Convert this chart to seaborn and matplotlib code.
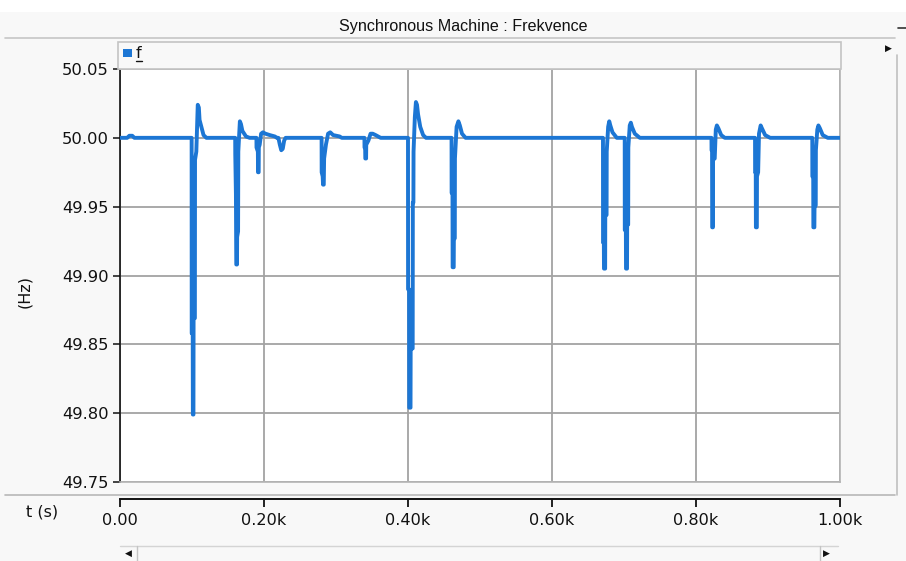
import matplotlib
matplotlib.use("Agg")
import matplotlib.pyplot as plt
import pandas as pd
import seaborn as sns
from matplotlib.patches import Rectangle
from matplotlib.lines import Line2D

# --- simulated generator frequency trace (time in s, frequency in Hz) ---
t_s = [
    0, 10, 13, 17, 20,
    99.5, 99.6, 101.0, 101.2, 102.0, 102.2, 104.0, 104.2, 106.0, 108.0, 109.5, 110.5, 113, 116, 120,
    160.0, 160.1, 161.0, 161.5, 162.5, 162.7, 164.0, 164.3, 166.5, 168, 170, 175, 180,
    189.5, 189.6, 191.5, 191.7, 192.6, 192.8, 194, 196, 198.5, 202, 208, 215, 218,
    220, 222, 224, 226, 228, 230,
    280, 280.1, 281.5, 282, 283, 283.5, 286, 289, 292, 296, 305, 308,
    339.5, 339.6, 340.5, 340.7, 341.8, 342.0, 345, 348, 351, 355, 362,
    400.0, 400.1, 401.5, 401.7, 403.5, 403.7, 406.5, 406.7, 407.5, 407.7, 409.5, 411, 412.5, 414, 417, 421, 425,
    460.5, 460.6, 461.8, 462, 463.5, 463.7, 465, 465.2, 467.5, 470, 472, 475, 480,
    670.8, 670.9, 672.0, 672.2, 673.8, 674, 675.8, 676, 678, 679.5, 681, 684, 690,
    701, 701.1, 702.6, 702.8, 704.2, 704.4, 705.8, 706, 708, 709.5, 711, 715, 722,
    821.5, 821.6, 822.3, 822.5, 823.5, 823.7, 826, 827.5, 829, 831, 835, 840,
    882, 882.1, 883, 883.2, 884.5, 884.7, 886.3, 887.5, 889.8, 891.5, 896, 903,
    961.5, 961.6, 962.8, 963.0, 964.4, 964.6, 966.3, 966.5, 968.5, 970, 972, 976, 983,
    1000,
]
f_hz = [
    50.000, 50.000, 50.0015, 50.0015, 50.000,
    50.000, 49.858, 49.858, 49.799, 49.799, 49.869, 49.869, 49.984, 49.990, 50.024, 50.022, 50.013, 50.008, 50.002, 50.000,
    50.000, 49.988, 49.959, 49.908, 49.908, 49.928, 49.932, 49.990, 50.012, 50.010, 50.005, 50.001, 50.000,
    50.000, 49.993, 49.990, 49.975, 49.975, 49.993, 49.995, 50.003, 50.004, 50.003, 50.002, 50.001, 50.000,
    50.000, 49.995, 49.991, 49.992, 49.998, 50.000,
    50.000, 49.975, 49.972, 49.966, 49.966, 49.985, 49.995, 50.003, 50.004, 50.002, 50.001, 50.000,
    50.000, 49.993, 49.993, 49.985, 49.985, 49.995, 49.998, 50.003, 50.003, 50.002, 50.000,
    50.000, 49.890, 49.890, 49.804, 49.804, 49.847, 49.847, 49.953, 49.953, 49.990, 50.015, 50.026, 50.024, 50.017, 50.008, 50.002, 50.000,
    50.000, 49.960, 49.960, 49.906, 49.906, 49.927, 49.927, 49.985, 50.008, 50.012, 50.009, 50.003, 50.000,
    50.000, 49.924, 49.924, 49.905, 49.905, 49.944, 49.944, 49.990, 50.008, 50.012, 50.009, 50.004, 50.000,
    50.000, 49.933, 49.933, 49.905, 49.905, 49.937, 49.937, 49.993, 50.009, 50.011, 50.008, 50.003, 50.000,
    50.000, 49.991, 49.991, 49.935, 49.935, 49.984, 49.985, 50.006, 50.009, 50.007, 50.002, 50.000,
    50.000, 49.975, 49.975, 49.935, 49.935, 49.972, 49.975, 50.003, 50.009, 50.007, 50.002, 50.000,
    50.000, 49.972, 49.972, 49.935, 49.935, 49.949, 49.951, 49.991, 50.006, 50.009, 50.007, 50.002, 50.000,
    50.000,
]

x_ticks = [0, 200, 400, 600, 800, 1000]
x_tick_labels = ["0.00", "0.20k", "0.40k", "0.60k", "0.80k", "1.00k"]
y_ticks = [49.75, 49.80, 49.85, 49.90, 49.95, 50.00, 50.05]
y_tick_labels = ["49.75", "49.80", "49.85", "49.90", "49.95", "50.00", "50.05"]

title = "Synchronous Machine : Frekvence"
series_name = "f"
x_name = "t (s)"
y_name = "(Hz)"

LINE = "#1c76d4"
GRID = "#a3a3a3"
BORDER = "#b4b4b4"
BG = "#f8f8f8"
INK = "#111111"

sns.set_theme(style="white")
plt.rcParams["font.family"] = ["DejaVu Sans"]

W, H = 906, 561
fig = plt.figure(figsize=(W / 100, H / 100), dpi=100, facecolor=BG)


def fx(px):
    return px / W


def fy(py):
    return 1 - py / H


def hline(y, x0, x1, color=BORDER, lw=1.0):
    fig.add_artist(Line2D([fx(x0), fx(x1)], [fy(y), fy(y)], transform=fig.transFigure,
                          color=color, lw=lw))


def vline(x, y0, y1, color=BORDER, lw=1.0):
    fig.add_artist(Line2D([fx(x), fx(x)], [fy(y0), fy(y1)], transform=fig.transFigure,
                          color=color, lw=lw))


# window chrome: white strip on top, title bar, separators
fig.add_artist(Rectangle((0, fy(12)), 1, 12 / H, transform=fig.transFigure,
                         facecolor="white", edgecolor="none", zorder=0))
fig.text(fx(463), fy(27), title, ha="center", va="center", fontsize=11.6,
         family=["Liberation Sans", "DejaVu Sans"], color=INK)
hline(38, 5, 895, color="#c6c6c6", lw=1.2)
hline(495, 5, 895, color="#b8b8b8", lw=1.2)
vline(897, 55, 495, color="#c0c0c0", lw=1.2)
hline(28, 898, 906, color="#333333", lw=1.2)
fig.text(fx(888), fy(48), "\u25B6", ha="center", va="center", fontsize=6.5, color=INK)

# legend strip above the plot area
fig.add_artist(Rectangle((fx(118), fy(69)), 723 / W, 27 / H, transform=fig.transFigure,
                         facecolor=BG, edgecolor="#c4c4c4", lw=1.2, zorder=1))
fig.add_artist(Rectangle((fx(123), fy(57)), 9 / W, 8 / H, transform=fig.transFigure,
                         facecolor=LINE, edgecolor="none", zorder=2))
fig.text(fx(136), fy(53), series_name, ha="left", va="center", fontsize=11.5, color=INK)
hline(61, 136, 142, color=INK, lw=1.0)

# main plot area
ax = fig.add_axes([fx(120), fy(482), 720 / W, 413 / H])
ax.set_facecolor("white")
df = pd.DataFrame({"t": t_s, "f": f_hz})
sns.lineplot(data=df, x="t", y="f", ax=ax, color=LINE, lw=2.8, sort=False,
             estimator=None, legend=False, zorder=3)
ax.set_xlim(0, 1000)
ax.set_ylim(49.75, 50.05)
ax.set_xticks(x_ticks)
ax.set_yticks(y_ticks)
ax.set_yticklabels(y_tick_labels)
ax.tick_params(axis="x", length=0, labelbottom=False)
ax.tick_params(axis="y", direction="out", length=5, width=1.1, color=INK,
               labelsize=11.8, labelcolor=INK, pad=3, left=True)
ax.grid(True, color=GRID, lw=1.3)
ax.set_axisbelow(True)
ax.set_xlabel("")
ax.set_ylabel("")
for side in ("top", "right", "bottom"):
    ax.spines[side].set_color(BORDER)
    ax.spines[side].set_linewidth(1.2)
ax.spines["left"].set_color(INK)
ax.spines["left"].set_linewidth(1.2)

fig.text(fx(25), fy(291), y_name, rotation=90, ha="center", va="center", fontsize=11.5,
         color=INK)

# separate time axis below the plot
axx = fig.add_axes([fx(120), fy(499), 720 / W, 0.0001])
axx.set_xlim(0, 1000)
axx.set_xticks(x_ticks)
axx.set_xticklabels(x_tick_labels)
axx.set_yticks([])
axx.patch.set_visible(False)
for side in ("top", "right", "left"):
    axx.spines[side].set_visible(False)
axx.spines["bottom"].set_color(INK)
axx.spines["bottom"].set_linewidth(1.4)
axx.tick_params(axis="x", bottom=True, direction="out", length=6, width=1.3, color=INK,
                labelsize=11.6, labelcolor=INK, pad=4)
fig.text(fx(42), fy(512), x_name, ha="center", va="center", fontsize=11.5, color=INK)

# horizontal scrollbar
hline(546, 120, 838, color="#d4d4d4", lw=1.0)
vline(137, 546, 561, color="#c4c4c4", lw=1.0)
vline(820, 546, 561, color="#c4c4c4", lw=1.0)
fig.text(fx(128), fy(553), "\u25C0", ha="center", va="center", fontsize=6.5, color=INK)
fig.text(fx(826), fy(553), "\u25B6", ha="center", va="center", fontsize=6.5, color=INK)

fig.savefig("out.png", dpi=100, facecolor=BG)
